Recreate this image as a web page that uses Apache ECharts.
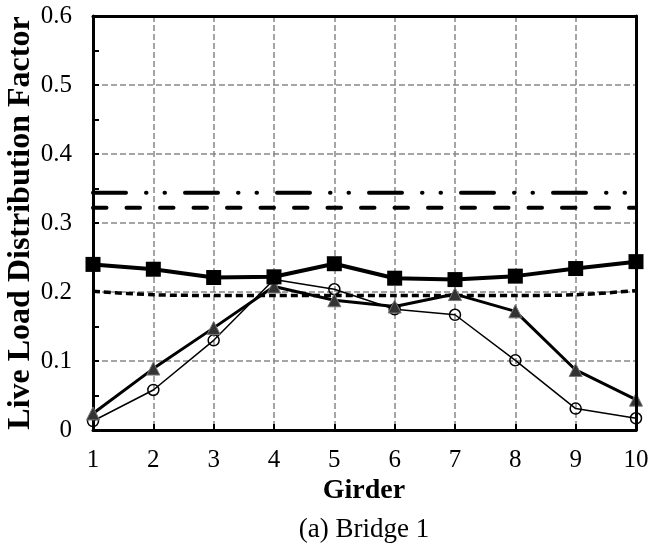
<!DOCTYPE html>
<html>
<head>
<meta charset="utf-8">
<script src="https://cdn.jsdelivr.net/npm/echarts@6/dist/echarts.min.js"></script>
<style>html,body{margin:0;padding:0;background:#fff;}#c{width:652px;height:548px;}</style>
</head>
<body>
<div id="c"></div>
<script>
var girders = [1, 2, 3, 4, 5, 6, 7, 8, 9, 10];
var squareValues   = [0.240, 0.233, 0.221, 0.222, 0.241, 0.220, 0.218, 0.223, 0.234, 0.244];
var triangleValues = [0.024, 0.089, 0.148, 0.208, 0.188, 0.179, 0.197, 0.172, 0.087, 0.044];
var circleValues   = [0.013, 0.058, 0.130, 0.218, 0.204, 0.175, 0.167, 0.101, 0.031, 0.017];
var shortDashValues = [0.201, 0.196, 0.195, 0.195, 0.195, 0.195, 0.195, 0.195, 0.196, 0.202];
var longDashValue = 0.322;
var dashDotValue = 0.344;
var yTicks = [0, 0.1, 0.2, 0.3, 0.4, 0.5, 0.6];

function pairs(vals) { return girders.map(function (g, i) { return [g, vals[i]]; }); }
function constant(v) { return girders.map(function (g) { return [g, v]; }); }

var serif = '"Liberation Serif", "Times New Roman", serif';
var xMin = girders[0], xMax = girders[girders.length - 1];
var yMin = yTicks[0], yMax = yTicks[yTicks.length - 1];
var chart = echarts.init(document.getElementById('c'), null, { renderer: 'canvas' });
chart.setOption({
  animation: false,
  backgroundColor: '#fff',
  grid: { left: 93, right: 16, top: 16, bottom: 118 },
  xAxis: [{
    type: 'value', min: xMin, max: xMax, interval: 1,
    axisLine: { lineStyle: { color: '#000', width: 3 } },
    axisTick: { inside: true, length: 6, lineStyle: { color: '#000', width: 2 } },
    axisLabel: { color: '#000', fontFamily: serif, fontSize: 25, margin: 18 },
    splitLine: { show: true, lineStyle: { color: '#888', width: 1.5, type: [6, 3] } }
  }, {
    type: 'value', position: 'top', min: xMin, max: xMax, interval: 1, z: 10,
    axisLine: { show: true, onZero: false, lineStyle: { color: '#000', width: 3 } },
    axisTick: { show: false }, axisLabel: { show: false }, splitLine: { show: false }
  }],
  yAxis: [{
    type: 'value', min: yMin, max: yMax, interval: 0.1,
    axisLine: { show: true, lineStyle: { color: '#000', width: 3 } },
    axisTick: { show: true, inside: true, length: 6, lineStyle: { color: '#000', width: 2 } },
    minorTick: { show: true, splitNumber: 2, length: 6, lineStyle: { color: '#000', width: 2 } },
    axisLabel: { color: '#000', fontFamily: serif, fontSize: 25, margin: 21,
      formatter: function (v) { return String(+v.toFixed(1)); } },
    splitLine: { show: true, lineStyle: { color: '#888', width: 1.5, type: [6, 3] } }
  }, {
    type: 'value', position: 'right', min: yMin, max: yMax, interval: 0.1, z: 10,
    axisLine: { show: true, onZero: false, lineStyle: { color: '#000', width: 3 } },
    axisTick: { show: false }, axisLabel: { show: false }, splitLine: { show: false }
  }],
  series: [
    { type: 'line', data: constant(dashDotValue), symbol: 'none', silent: true,
      lineStyle: { color: '#000', width: 4, cap: 'round', type: [33, 20, 0.5, 18, 0.5, 20] } },
    { type: 'line', data: constant(longDashValue), symbol: 'none', silent: true,
      lineStyle: { color: '#000', width: 4, cap: 'round', type: [13.5, 20] } },
    { type: 'line', data: pairs(shortDashValues), symbol: 'none', smooth: 0.3, silent: true,
      lineStyle: { color: '#000', width: 3.5, type: [7, 4] } },
    { type: 'line', data: pairs(circleValues), symbol: 'circle', symbolSize: 11,
      lineStyle: { color: '#000', width: 1.5 },
      itemStyle: { color: 'rgba(0,0,0,0)', borderColor: '#000', borderWidth: 1.5 } },
    { type: 'line', data: pairs(triangleValues), symbol: 'triangle', symbolSize: 13,
      lineStyle: { color: '#000', width: 3 },
      itemStyle: { color: '#333', borderColor: '#777', borderWidth: 1 } },
    { type: 'line', data: pairs(squareValues), symbol: 'rect', symbolSize: 15,
      lineStyle: { color: '#000', width: 4 },
      itemStyle: { color: '#000', borderColor: '#000', borderWidth: 0 } }
  ],
  graphic: [
    { type: 'text', x: 21, y: 223, rotation: Math.PI / 2,
      style: { text: 'Live Load Distribution Factor', font: 'bold 32px ' + serif, fill: '#000', textAlign: 'center', textVerticalAlign: 'middle' } },
    { type: 'text', x: 364, y: 491,
      style: { text: 'Girder', font: 'bold 28px ' + serif, fill: '#000', textAlign: 'center', textVerticalAlign: 'middle' } },
    { type: 'text', x: 364, y: 530,
      style: { text: '(a) Bridge 1', font: '27px ' + serif, fill: '#000', textAlign: 'center', textVerticalAlign: 'middle' } }
  ]
});
</script>
</body>
</html>
